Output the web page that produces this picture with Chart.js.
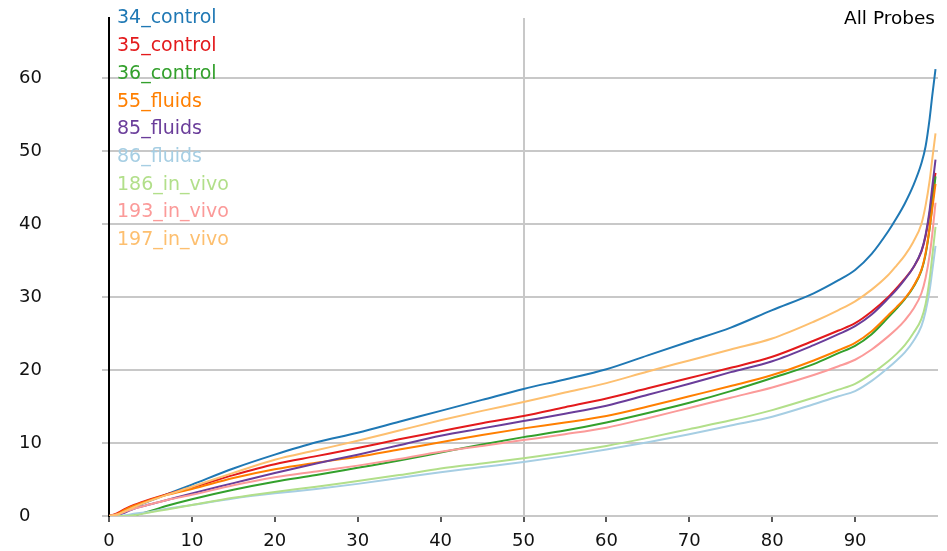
<!DOCTYPE html>
<html>
<head>
<meta charset="utf-8">
<script src="https://cdn.jsdelivr.net/npm/chart.js@4/dist/chart.umd.min.js"></script>
<style>
  html, body { margin: 0; padding: 0; background: #ffffff; }
  #wrap { width: 947px; height: 551px; }
</style>
</head>
<body>
<div id="wrap"><canvas id="chart" width="947" height="551"></canvas></div>
<script>
// Percentile positions (x) shared by every probe curve
const percentiles = [0,1,2,3,5,7,10,15,20,25,30,35,40,45,50,55,60,65,70,75,80,85,88,90,92,94,95,96,97,98,98.5,99,99.3,99.7];

const seriesNames = ['34_control','35_control','36_control','55_fluids','85_fluids','86_fluids','186_in_vivo','193_in_vivo','197_in_vivo'];

const s34_control = [0,0.1,0.6,1.2,2.1,3.0,4.3,6.5,8.4,10.1,11.4,12.9,14.4,15.9,17.4,18.7,20.1,22.0,23.9,25.8,28.2,30.5,32.3,33.7,35.9,39.0,40.8,42.8,45.2,48.3,50.6,54.5,57.5,61.2];
const s35_control = [0,0.4,1.0,1.5,2.3,3.0,3.9,5.6,7.1,8.2,9.3,10.5,11.6,12.7,13.7,14.9,16.1,17.5,18.9,20.3,21.8,24.0,25.4,26.4,28.0,30.0,31.2,32.5,34.0,36.2,38.3,41.5,44.0,47.0];
const s36_control = [0,0,0,0.1,0.7,1.4,2.3,3.6,4.7,5.6,6.6,7.6,8.7,9.8,10.8,11.7,12.8,14.1,15.5,17.1,18.9,20.8,22.3,23.3,24.9,27.2,28.4,29.7,31.3,33.6,35.8,39.5,42.5,46.5];
const s55_fluids  = [0,0.3,0.9,1.4,2.2,2.9,3.7,5.2,6.4,7.3,8.1,9.1,10.1,11.1,12.0,12.8,13.7,15.0,16.4,17.8,19.3,21.3,22.7,23.7,25.3,27.5,28.6,29.8,31.4,33.7,36.0,39.5,42.0,45.5];
const s85_fluids  = [0,0.1,0.5,1.0,1.6,2.2,3.1,4.5,5.9,7.2,8.4,9.7,11.0,12.0,13.0,14.0,15.1,16.6,18.1,19.7,21.2,23.4,24.9,26.0,27.6,29.8,31.0,32.4,34.0,36.3,38.5,42.0,45.0,48.8];
const s86_fluids  = [0,0,0.1,0.3,0.6,1.0,1.5,2.4,3.1,3.7,4.4,5.2,6.0,6.7,7.4,8.2,9.1,10.1,11.2,12.4,13.6,15.3,16.4,17.1,18.5,20.3,21.3,22.4,23.9,26.0,28.0,31.0,33.5,37.0];
const s186_in_vivo = [0,0,0,0.1,0.5,0.9,1.5,2.5,3.3,4.0,4.8,5.6,6.5,7.2,7.9,8.7,9.6,10.7,11.9,13.1,14.5,16.2,17.3,18.1,19.5,21.2,22.2,23.4,25.0,27.0,29.0,32.5,35.5,39.6];
const s193_in_vivo = [0,0.2,0.6,1.0,1.6,2.2,2.9,4.2,5.3,6.1,6.9,7.8,8.8,9.6,10.4,11.2,12.1,13.4,14.8,16.2,17.6,19.3,20.5,21.4,22.8,24.6,25.6,26.8,28.3,30.5,32.6,35.8,38.5,42.9];
const s197_in_vivo = [0,0.2,0.7,1.2,2.1,2.9,4.0,5.9,7.7,9.0,10.3,11.7,13.1,14.4,15.6,16.9,18.2,19.8,21.3,22.8,24.3,26.6,28.2,29.4,31.0,33.0,34.3,35.7,37.5,40.0,42.5,46.0,48.8,52.4];

const seriesValues = [s34_control, s35_control, s36_control, s55_fluids, s85_fluids, s86_fluids, s186_in_vivo, s193_in_vivo, s197_in_vivo];
const seriesColors = ['#1f78b4','#e31a1c','#33a02c','#ff7f00','#6a3d9a','#a6cee3','#b2df8a','#fb9a99','#fdbf6f'];

const xTickValues = [0,10,20,30,40,50,60,70,80,90];
const yTickValues = [0,10,20,30,40,50,60];
const panelTitle = 'All Probes';

const datasets = seriesNames.map((name, i) => ({
  label: name,
  data: percentiles.map((p, k) => ({ x: p, y: seriesValues[i][k] })),
  borderColor: seriesColors[i],
  backgroundColor: seriesColors[i],
  borderWidth: 2,
  pointRadius: 0,
  cubicInterpolationMode: 'monotone',
  fill: false,
  order: seriesNames.length - i
}));

// Coloured text-only legend in the top-left corner plus the panel title
const textOverlay = {
  id: 'textOverlay',
  afterDraw(chart) {
    const ctx = chart.ctx;
    ctx.save();
    ctx.font = '19px "DejaVu Sans", sans-serif';
    ctx.textAlign = 'left';
    ctx.textBaseline = 'middle';
    chart.data.datasets.forEach((ds, i) => {
      ctx.fillStyle = ds.borderColor;
      ctx.fillText(ds.label, 117, 18.5 + i * 27.7);
    });
    ctx.fillStyle = '#000000';
    ctx.textAlign = 'right';
    ctx.font = '18.5px "DejaVu Sans", sans-serif';
    ctx.fillText(panelTitle, 935, 19);
    ctx.restore();
  }
};

new Chart(document.getElementById('chart'), {
  type: 'line',
  data: { datasets },
  plugins: [textOverlay],
  options: {
    responsive: false,
    animation: false,
    devicePixelRatio: 1,
    layout: { padding: { left: 19, right: 9, top: 18, bottom: 0 } },
    plugins: { legend: { display: false }, tooltip: { enabled: false }, title: { display: false } },
    scales: {
      x: {
        type: 'linear',
        min: 0,
        max: 100,
        afterBuildTicks(scale) { scale.ticks = xTickValues.map(v => ({ value: v })); },
        afterFit(scale) { scale.height = 35; },
        border: { display: false },
        grid: {
          color: ctx => (ctx.tick && ctx.tick.value === 50) ? '#c8c8c8' : 'rgba(0,0,0,0)',
          lineWidth: 2,
          tickColor: '#222222',
          tickLength: 6,
          tickWidth: 1.5,
          drawOnChartArea: true
        },
        ticks: {
          color: '#111111',
          font: { family: '"DejaVu Sans", sans-serif', size: 18 },
          padding: 9,
          maxRotation: 0,
          autoSkip: false
        }
      },
      y: {
        type: 'linear',
        min: 0,
        max: 68.2,
        afterBuildTicks(scale) { scale.ticks = yTickValues.map(v => ({ value: v })); },
        afterFit(scale) { scale.width = 90; },
        border: { display: true, color: '#000000', width: 2 },
        grid: {
          color: '#c8c8c8',
          lineWidth: 2,
          tickColor: '#c8c8c8',
          tickLength: 7
        },
        ticks: {
          color: '#111111',
          font: { family: '"DejaVu Sans", sans-serif', size: 18 },
          crossAlign: 'far',
          autoSkip: false
        }
      }
    }
  }
});
</script>
</body>
</html>
